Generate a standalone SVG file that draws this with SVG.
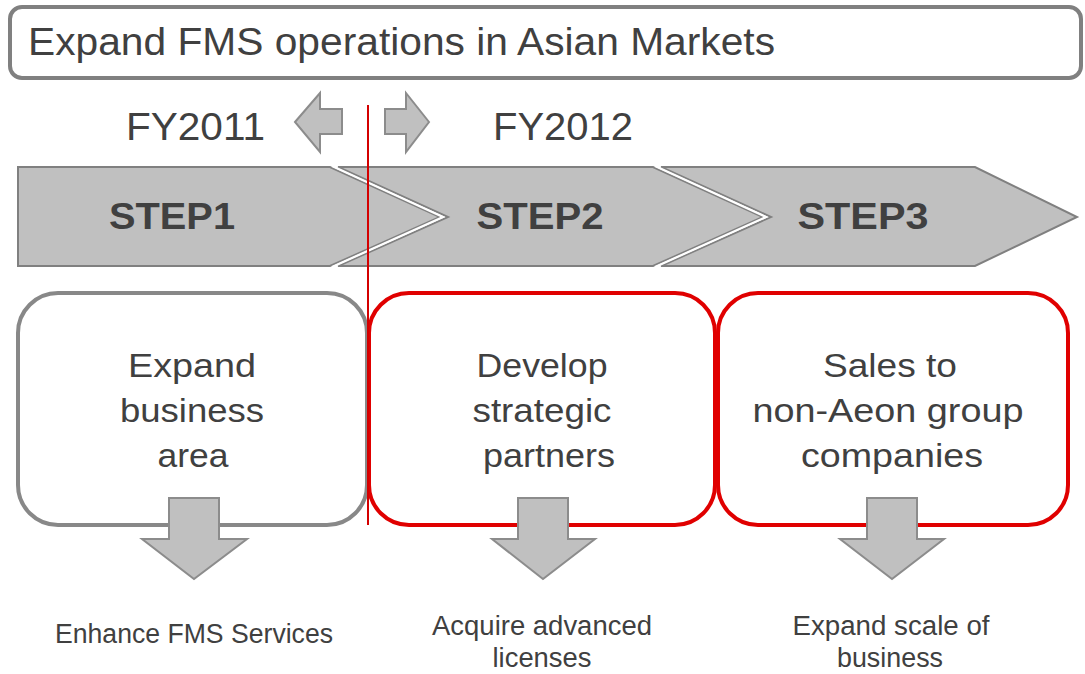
<svg xmlns="http://www.w3.org/2000/svg" width="1085" height="674" viewBox="0 0 1085 674">
<style>
.t{font-family:"Liberation Sans",Arial,sans-serif;fill:#404040}
.title{font-size:38px}
.fy{font-size:39px}
.step{font-size:37px;font-weight:bold;text-anchor:middle}
.box{font-size:34px;text-anchor:middle}
.out{font-size:27px;text-anchor:middle}
.chev{fill:#c0c0c0;stroke:#808080;stroke-width:2;stroke-linejoin:miter}
.joint{fill:none;stroke:#ffffff;stroke-width:2.2}
.garrow{fill:#c0c0c0;stroke:#8c8c8c;stroke-width:2;stroke-linejoin:miter}
.gbox{fill:#ffffff;stroke:#888888;stroke-width:4}
.rbox{fill:#ffffff;stroke:#e00000;stroke-width:4}
</style>
<rect width="1085" height="674" fill="#ffffff"/>
<g id="title">
<rect x="10" y="7" width="1071" height="71" rx="12" fill="#ffffff" stroke="#808080" stroke-width="4"/>
<text class="t title" x="28" y="55" textLength="747" lengthAdjust="spacingAndGlyphs">Expand FMS operations in Asian Markets</text>
</g>
<g id="fy2011">
<text class="t fy" x="126" y="140" textLength="139" lengthAdjust="spacingAndGlyphs">FY2011</text>
<polygon class="garrow" points="295,122 320,93 320,109 342,109 342,134 320,134 320,152"/>
</g>
<g id="fy2012">
<text class="t fy" x="493" y="140" textLength="140" lengthAdjust="spacingAndGlyphs">FY2012</text>
<polygon class="garrow" points="429,122 406,93 406,109 385,109 385,134 406,134 406,152"/>
</g>
<g id="step1">
<polygon class="chev" points="18,167 330,167 440,217 330,266 18,266"/>
<text class="t step" x="172" y="229" textLength="126" lengthAdjust="spacingAndGlyphs">STEP1</text>
</g>
<g id="step2">
<polygon class="chev" points="338,167 653,167 763,217 653,266 338,266 448,217"/>
<text class="t step" x="540" y="229" textLength="127" lengthAdjust="spacingAndGlyphs">STEP2</text>
</g>
<g id="step3">
<polygon class="chev" points="661,167 975,167 1077,217 975,266 661,266 771,217"/>
<text class="t step" x="863" y="229" textLength="131" lengthAdjust="spacingAndGlyphs">STEP3</text>
</g>
<polyline class="joint" points="332,166 443,217 332,267"/>
<polyline class="joint" points="655,166 766,217 655,267"/>
<g id="box1">
<rect class="gbox" x="18" y="293" width="349" height="232" rx="40"/>
<text class="t box" x="192" y="377" textLength="128" lengthAdjust="spacingAndGlyphs">Expand</text>
<text class="t box" x="192" y="422" textLength="144" lengthAdjust="spacingAndGlyphs">business</text>
<text class="t box" x="193" y="467" textLength="71" lengthAdjust="spacingAndGlyphs">area</text>
</g>
<g id="box2">
<rect class="rbox" x="369" y="293" width="346" height="232" rx="40"/>
<text class="t box" x="542" y="377" textLength="131" lengthAdjust="spacingAndGlyphs">Develop</text>
<text class="t box" x="542" y="422" textLength="139" lengthAdjust="spacingAndGlyphs">strategic</text>
<text class="t box" x="549" y="467" textLength="132" lengthAdjust="spacingAndGlyphs">partners</text>
</g>
<g id="box3">
<rect class="rbox" x="718" y="293" width="350" height="232" rx="40"/>
<text class="t box" x="890" y="377" textLength="134" lengthAdjust="spacingAndGlyphs">Sales to</text>
<text class="t box" x="888" y="422" textLength="271" lengthAdjust="spacingAndGlyphs">non-Aeon group</text>
<text class="t box" x="892" y="467" textLength="182" lengthAdjust="spacingAndGlyphs">companies</text>
</g>
<line id="divider" x1="368" y1="105" x2="368" y2="525" stroke="#d40000" stroke-width="2"/>
<g id="connectors">
<polygon class="garrow" points="169,498 219,498 219,539 247,539 194,579 142,539 169,539"/>
<polygon class="garrow" points="518,498 568,498 568,539 595,539 543,579 492,539 518,539"/>
<polygon class="garrow" points="867,498 917,498 917,539 944,539 892,579 840,539 867,539"/>
</g>
<g id="out1">
<text class="t out" x="194" y="643" textLength="278" lengthAdjust="spacingAndGlyphs">Enhance FMS Services</text>
</g>
<g id="out2">
<text class="t out" x="542" y="635" textLength="220" lengthAdjust="spacingAndGlyphs">Acquire advanced</text>
<text class="t out" x="542" y="667" textLength="99" lengthAdjust="spacingAndGlyphs">licenses</text>
</g>
<g id="out3">
<text class="t out" x="891" y="635" textLength="197" lengthAdjust="spacingAndGlyphs">Expand scale of</text>
<text class="t out" x="890" y="667" textLength="106" lengthAdjust="spacingAndGlyphs">business</text>
</g>
</svg>
